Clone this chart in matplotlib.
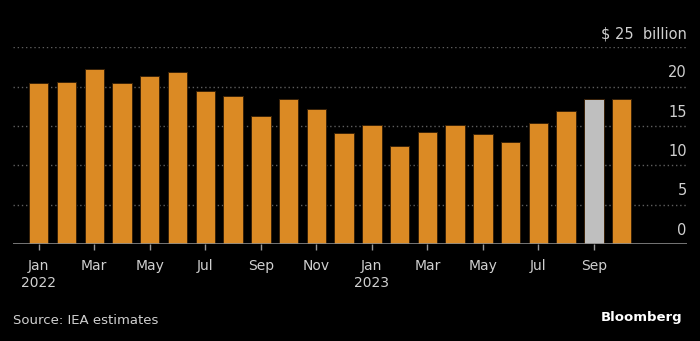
"""Monthly spending bar chart, dark Bloomberg style."""
import matplotlib
matplotlib.use("Agg")
import matplotlib.pyplot as plt
import numpy as np

BG = "#000000"
ORANGE = "#DB8A24"
GRAY_BAR = "#BFBFBF"
EDGE = "#3a2208"
TEXT = "#D0D0D0"
GRID = "#5e5e5e"

months = ["Jan", "Feb", "Mar", "Apr", "May", "Jun", "Jul", "Aug", "Sep", "Oct", "Nov", "Dec",
          "Jan", "Feb", "Mar", "Apr", "May", "Jun", "Jul", "Aug", "Sep", "Oct"]
values = [20.4, 20.6, 22.2, 20.45, 21.3, 21.8, 19.5, 18.8, 16.3, 18.4, 17.15, 14.1,
          15.1, 12.4, 14.2, 15.1, 14.0, 12.95, 15.35, 16.85, 18.45, 18.4]
highlight = 20  # Sep 2023 shown in gray
tick_labels = ["Jan\n2022", "Mar", "May", "Jul", "Sep", "Nov",
               "Jan\n2023", "Mar", "May", "Jul", "Sep"]
y_ticks = [0, 5, 10, 15, 20, 25]
y_labels = ["0", "5", "10", "15", "20", "$ 25  billion"]

plt.rcParams["font.family"] = ["DejaVu Sans"]

fig = plt.figure(figsize=(7, 3.41), dpi=100, facecolor=BG)
ax = fig.add_axes([13 / 700, 97 / 341, (686.7 - 13) / 700, (244 - 47.3) / 341])
ax.set_facecolor(BG)

x = np.arange(len(values))
colors = [GRAY_BAR if i == highlight else ORANGE for i in x]
ax.bar(x, values, width=0.7, color=colors, edgecolor=EDGE, linewidth=0.7, zorder=3)

ax.set_xlim(-0.926, 23.34)
ax.set_ylim(0, 25)

for v in y_ticks[1:]:
    ax.axhline(v, color=GRID, lw=1.0, ls=(0, (1, 2)), zorder=1)
ax.axhline(0, color="#8a8a8a", lw=1.2, zorder=4)

for v, lab in zip(y_ticks, y_labels):
    ax.annotate(lab, xy=(1.0, v), xycoords=("axes fraction", "data"),
                xytext=(0, 4.5), textcoords="offset points",
                ha="right", va="bottom", color=TEXT, fontsize=10.5)

ax.set_xticks(x[::2][:len(tick_labels)])
ax.set_xticklabels(tick_labels, color=TEXT, fontsize=10, linespacing=1.3)
ax.tick_params(axis="x", length=4.5, color="#999999", width=1, pad=6)
ax.set_yticks([])
for s in ax.spines.values():
    s.set_visible(False)

fig.text(13 / 700, 1 - 321 / 341, "Source: IEA estimates", color=TEXT,
         fontsize=9.5, ha="left", va="center")
fig.text(682 / 700, 1 - 318 / 341, "Bloomberg", color="white",
         fontsize=9.5, fontweight="bold", ha="right", va="center")

fig.savefig("out.png", dpi=100, facecolor=BG)
